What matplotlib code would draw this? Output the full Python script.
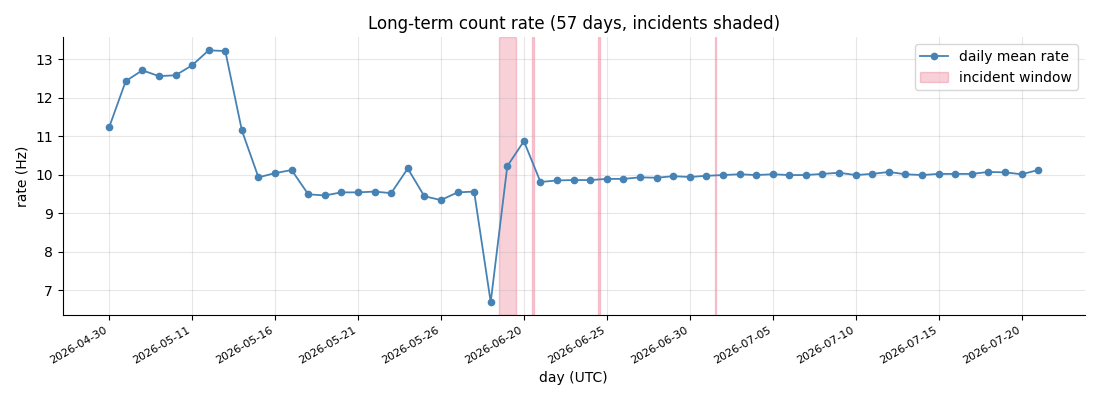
import numpy as np
import pandas as pd
import matplotlib
matplotlib.use("Agg")
import matplotlib.pyplot as plt

# days with data (not contiguous, there are gaps in the record)
days = (["2026-04-30", "2026-05-07", "2026-05-08", "2026-05-09", "2026-05-10"]
        + [d.strftime("%Y-%m-%d") for d in pd.date_range("2026-05-11", "2026-05-28")]
        + ["2026-06-18", "2026-06-19"]
        + [d.strftime("%Y-%m-%d") for d in pd.date_range("2026-06-20", "2026-07-21")])

rate = [11.23, 12.43, 12.71, 12.56, 12.58, 12.84, 13.23, 13.21, 11.15, 9.93,
        10.04, 10.12, 9.49, 9.46, 9.54, 9.54, 9.56, 9.52, 10.16, 9.44,
        9.34, 9.54, 9.56, 6.69, 10.22, 10.87, 9.81, 9.85, 9.86, 9.86,
        9.89, 9.89, 9.93, 9.92, 9.96, 9.94, 9.97, 9.99, 10.01, 9.99,
        10.01, 9.99, 9.99, 10.02, 10.05, 9.99, 10.02, 10.07, 10.01, 9.99,
        10.02, 10.02, 10.02, 10.07, 10.06, 10.01, 10.12]

# incident windows in day-index units
incident_start = [23.5, 25.5, 29.48, 36.5]
incident_end = [24.5, 25.6, 29.6, 36.6]

x = np.arange(len(days))

fig, ax = plt.subplots(figsize=(11, 4), dpi=100)
ax.plot(x, rate, marker="o", ms=4.5, lw=1.3, color="steelblue", label="daily mean rate")
for i, (s, e) in enumerate(zip(incident_start, incident_end)):
    ax.axvspan(s, e, color="crimson", alpha=0.2,
               label="incident window" if i == 0 else None)

ax.set_xticks(x[::5])
ax.set_xticklabels(days[::5], rotation=30, ha="right", fontsize=8)
ax.set_xlim(-2.8, 58.8)
ax.set_ylim(6.35, 13.57)
ax.grid(True, alpha=0.3)
ax.spines["top"].set_visible(False)
ax.spines["right"].set_visible(False)
ax.set_xlabel("day (UTC)")
ax.set_ylabel("rate (Hz)")
ax.set_title("Long-term count rate (57 days, incidents shaded)")
ax.legend(loc="upper right")

fig.subplots_adjust(left=0.057, right=0.986, top=0.907, bottom=0.212)
fig.savefig("out.png")
